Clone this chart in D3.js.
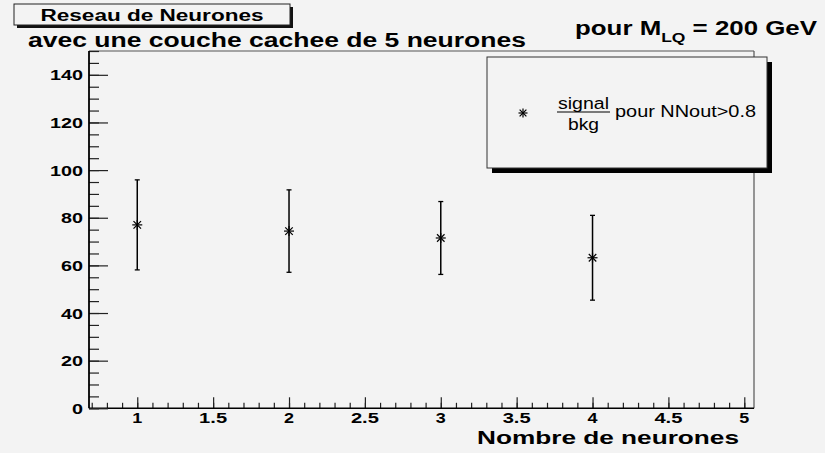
<!DOCTYPE html>
<html>
<head>
<meta charset="utf-8">
<script src="https://cdn.jsdelivr.net/npm/d3@7"></script>
<style>
  html, body { margin: 0; padding: 0; background: #f3f3f3; }
  svg { display: block; }
  text { font-family: "Liberation Sans", Arial, sans-serif; fill: #000; }
</style>
</head>
<body>
<svg id="chart" width="825" height="453"></svg>
<script>
// Nombre de neurones dans la couche cachee
const neurones = [1, 2, 3, 4];
// Rapport signal/bkg pour NNout > 0.8
const signalBkg = [77.0, 74.4, 71.5, 63.2];
// Erreurs symetriques
const erreurs = [18.9, 17.3, 15.3, 17.8];

const xTickValues = [1, 1.5, 2, 2.5, 3, 3.5, 4, 4.5, 5];
const xTickLabels = ["1", "1.5", "2", "2.5", "3", "3.5", "4", "4.5", "5"];
const yTickValues = [0, 20, 40, 60, 80, 100, 120, 140];
const yTickLabels = ["0", "20", "40", "60", "80", "100", "120", "140"];

const svg = d3.select("#chart");
const W = 825, H = 453;
const frame = { left: 89, right: 754, top: 51, bottom: 408.3 };

svg.append("rect").attr("width", W).attr("height", H).attr("fill", "#f3f3f3");

const x = d3.scaleLinear().domain([0.682, 5.064]).range([frame.left, frame.right]);
const y = d3.scaleLinear().domain([0, 150]).range([frame.bottom, frame.top]);

// stretch a text to a given width (wide Helvetica rendering)
function fit(sel, w) {
  return sel.attr("textLength", w).attr("lengthAdjust", "spacingAndGlyphs");
}

// frame lines (top and right)
svg.append("line").attr("x1", frame.left).attr("x2", frame.right)
  .attr("y1", frame.top).attr("y2", frame.top)
  .attr("stroke", "#555").attr("stroke-width", 1.2);
svg.append("line").attr("x1", frame.right).attr("x2", frame.right)
  .attr("y1", frame.top).attr("y2", frame.bottom)
  .attr("stroke", "#555").attr("stroke-width", 1.2);

// X axis
const xMinor = d3.range(7, 51).map(d => d / 10);
const xAxisG = svg.append("g").attr("transform", `translate(0,${frame.bottom})`);
xAxisG.append("g").call(
  d3.axisTop(x).tickValues(xMinor).tickSize(5.5).tickFormat("")
).call(g => g.select(".domain").remove());
xAxisG.append("g").call(
  d3.axisTop(x).tickValues(xTickValues).tickSize(11).tickFormat("")
).call(g => g.select(".domain").remove());
xAxisG.append("line").attr("x1", frame.left).attr("x2", frame.right)
  .attr("stroke", "#000").attr("stroke-width", 1.6);
xAxisG.selectAll(".tick line").attr("stroke", "#222").attr("stroke-width", 1.2);

svg.append("g").selectAll("text").data(xTickValues).join("text")
  .attr("x", d => x(d)).attr("y", 423)
  .attr("text-anchor", "middle")
  .attr("font-size", 15).attr("font-weight", "bold")
  .text((d, i) => xTickLabels[i])
  .each(function (d, i) {
    const w = xTickLabels[i].length === 1 ? 10 : 28;
    fit(d3.select(this), w);
  });

// Y axis
const yMinor = d3.range(0, 151, 5);
const yAxisG = svg.append("g").attr("transform", `translate(${frame.left},0)`);
yAxisG.append("g").call(
  d3.axisRight(y).tickValues(yMinor).tickSize(10).tickFormat("")
).call(g => g.select(".domain").remove());
yAxisG.append("g").call(
  d3.axisRight(y).tickValues(yTickValues).tickSize(19).tickFormat("")
).call(g => g.select(".domain").remove());
yAxisG.append("line").attr("y1", frame.top).attr("y2", frame.bottom)
  .attr("stroke", "#000").attr("stroke-width", 1.8);
yAxisG.selectAll(".tick line").attr("stroke", "#222").attr("stroke-width", 1.2);

svg.append("g").selectAll("text").data(yTickValues).join("text")
  .attr("x", 83).attr("y", d => y(d) + 5.6)
  .attr("text-anchor", "end")
  .attr("font-size", 15.5).attr("font-weight", "bold")
  .text((d, i) => yTickLabels[i])
  .each(function (d, i) {
    fit(d3.select(this), yTickLabels[i].length * 11);
  });

// axis title
fit(svg.append("text").attr("x", 739).attr("y", 443.5).attr("text-anchor", "end")
  .attr("font-size", 19).attr("font-weight", "bold")
  .text("Nombre de neurones"), 262);

// star marker (asterisk)
function star(g, cx, cy, r) {
  const segs = [[-r, 0, r, 0], [0, -r, 0, r],
    [-r * 0.75, -r * 0.75, r * 0.75, r * 0.75], [-r * 0.75, r * 0.75, r * 0.75, -r * 0.75]];
  segs.forEach(s => g.append("line")
    .attr("x1", cx + s[0]).attr("y1", cy + s[1]).attr("x2", cx + s[2]).attr("y2", cy + s[3])
    .attr("stroke", "#000").attr("stroke-width", 1.2));
}

// error bars and points
const pts = svg.append("g");
neurones.forEach((n, i) => {
  const cx = x(n);
  const lo = y(signalBkg[i] - erreurs[i]);
  const hi = y(signalBkg[i] + erreurs[i]);
  pts.append("line").attr("x1", cx).attr("x2", cx).attr("y1", lo).attr("y2", hi)
    .attr("stroke", "#000").attr("stroke-width", 1.5);
  pts.append("line").attr("x1", cx - 2.5).attr("x2", cx + 2.5).attr("y1", lo).attr("y2", lo)
    .attr("stroke", "#000").attr("stroke-width", 1.3);
  pts.append("line").attr("x1", cx - 2.5).attr("x2", cx + 2.5).attr("y1", hi).attr("y2", hi)
    .attr("stroke", "#000").attr("stroke-width", 1.3);
  star(pts, cx, y(signalBkg[i]), 5);
});

// legend box with shadow
const lg = { x: 487, y: 57, w: 280, h: 111 };
svg.append("rect").attr("x", lg.x + 5).attr("y", lg.y + 5).attr("width", lg.w).attr("height", lg.h)
  .attr("fill", "#000");
svg.append("rect").attr("x", lg.x).attr("y", lg.y).attr("width", lg.w).attr("height", lg.h)
  .attr("fill", "#f3f3f3").attr("stroke", "#333").attr("stroke-width", 1);
star(svg.append("g"), 523, 113, 4.5);
fit(svg.append("text").attr("x", 583.5).attr("y", 108.5).attr("text-anchor", "middle")
  .attr("font-size", 16).text("signal"), 51);
svg.append("line").attr("x1", 557).attr("x2", 610).attr("y1", 112).attr("y2", 112)
  .attr("stroke", "#000").attr("stroke-width", 1.2);
fit(svg.append("text").attr("x", 583.5).attr("y", 130).attr("text-anchor", "middle")
  .attr("font-size", 16).text("bkg"), 31);
fit(svg.append("text").attr("x", 615).attr("y", 117).attr("font-size", 16.5)
  .text("pour NNout>0.8"), 141);

// title box with shadow
const tb = { x: 14, y: 4, w: 276, h: 21 };
svg.append("rect").attr("x", tb.x + 3).attr("y", tb.y + 3).attr("width", tb.w).attr("height", tb.h)
  .attr("fill", "#111");
svg.append("rect").attr("x", tb.x).attr("y", tb.y).attr("width", tb.w).attr("height", tb.h)
  .attr("fill", "#f3f3f3").attr("stroke", "#222").attr("stroke-width", 1);
fit(svg.append("text").attr("x", 152).attr("y", 20.5).attr("text-anchor", "middle")
  .attr("font-size", 16).attr("font-weight", "bold").text("Reseau de Neurones"), 223);

fit(svg.append("text").attr("x", 28).attr("y", 47).attr("font-size", 20)
  .attr("font-weight", "bold").text("avec une couche cachee de 5 neurones"), 498);

// mass label with subscript
const ml = svg.append("text").attr("x", 575).attr("y", 35).attr("font-size", 20).attr("font-weight", "bold");
ml.append("tspan").text("pour M");
ml.append("tspan").attr("font-size", 13.5).attr("dy", 7).text("LQ");
ml.append("tspan").attr("dy", -7).text(" = 200 GeV");
fit(ml, 242);
</script>
</body>
</html>
